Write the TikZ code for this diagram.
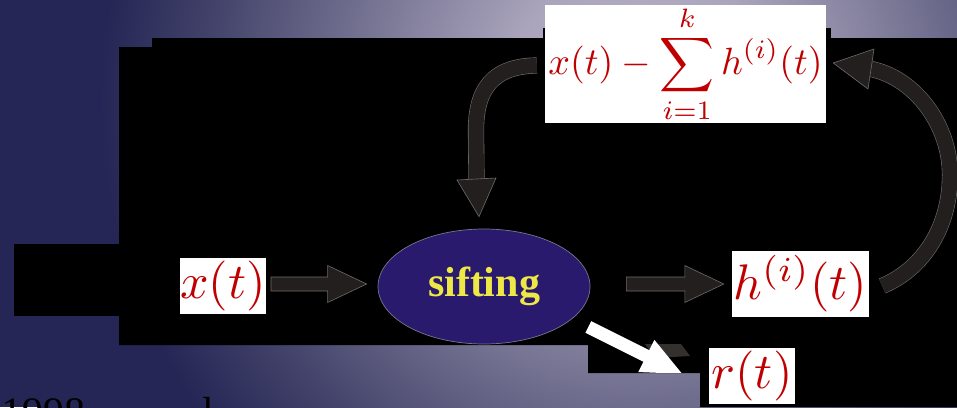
\documentclass[tikz,border=0pt]{standalone}
\usepackage{fix-cm}
\usepackage{exscale}
\usepackage{amsmath}
\usepackage{graphicx}
\usepackage{fontspec}
\newfontfamily\tnr{Liberation Serif}
\usetikzlibrary{calc,shapes.geometric}
\definecolor{navy}{RGB}{37,38,85}
\definecolor{bgA}{RGB}{190,183,203}
\definecolor{bgB}{RGB}{170,164,188}
\definecolor{bgC}{RGB}{112,110,142}
\definecolor{bgD}{RGB}{65,65,105}
\definecolor{mred}{RGB}{192,0,0}
\definecolor{ellfill}{RGB}{42,26,110}
\definecolor{ellline}{RGB}{120,118,140}
\definecolor{siftyellow}{RGB}{238,232,70}
\definecolor{arrowfill}{RGB}{35,31,30}
\definecolor{arrowedge}{RGB}{110,108,106}
\definecolor{sliver}{RGB}{52,48,46}
\pgfdeclareradialshading{bgshade}{\pgfpoint{0bp}{0bp}}{color(0bp)=(bgA); color(5.6bp)=(bgB); color(12.5bp)=(bgC); color(18.3bp)=(bgD); color(22.5bp)=(navy); color(50bp)=(navy)}
\newcommand\blkarrow[6]{%
  \coordinate (#2-h) at ($(#3)!#6!(#2)$);
  \filldraw[#1] ($(#2)!#4!90:(#3)$) -- ($(#2-h)!#4!-90:(#2)$) -- ($(#2-h)!#5!-90:(#2)$) -- (#3) -- ($(#2-h)!#5!90:(#2)$) -- ($(#2-h)!#4!90:(#2)$) -- ($(#2)!#4!-90:(#3)$) -- cycle;}
\tikzset{
  mbox/.style={fill=white, inner sep=0pt, text=mred},
  blockstyle/.style={fill=arrowfill, draw=arrowedge, line width=0.6pt, line join=miter},
  whitestyle/.style={fill=white, draw=none},
  curvestyle/.style={draw=arrowedge, line width=16.2pt, line cap=butt, postaction={draw=arrowfill, line width=15pt, line cap=butt}},
  bottomtext/.style={anchor=base west, inner sep=0pt, text=black, font=\tnr\fontsize{42}{42}\selectfont}
}
\begin{document}
\begin{tikzpicture}[x=1pt,y=-1pt]
\useasboundingbox (0,0) rectangle (957,407);
\begin{scope}
  \clip (0,0) rectangle (957,407);
  \fill[navy] (0,0) rectangle (957,407);
  \shade[shading=bgshade] (40,-500) rectangle (1240,700);
  % partially visible text at bottom
  \node[bottomtext] (yr) at (1,426) {1998};
  \node[bottomtext] (ltr) at (202,426) {l};
\end{scope}
% black panels
\fill[black] (152,38) -- (957,38) -- (957,407) -- (700,407) -- (700,373) -- (588,373) -- (588,345) -- (119,345) -- (119,47) -- (152,47) -- cycle;
\fill[black] (14,244) rectangle (119,316);
\fill[black] (543,28) rectangle (831,38);
% boxes
\node[mbox, minimum width=84pt, minimum height=56pt] (xt) at (223,286) {\scalebox{5}{$x(t)$}};
\node[mbox, minimum width=137pt, minimum height=66pt] (ht) at (800.5,284) {\scalebox{5}{$h^{(i)}(t)$}};
\node[mbox, minimum width=86pt, minimum height=56pt] (rt) at (752,376) {\scalebox{5}{$r(t)$}};
\node[mbox, minimum width=281pt, minimum height=112pt] (sum) at (685.5,64) {\scalebox{3.8}{$\displaystyle x(t)-\sum_{i=1}^{k}h^{(i)}(t)$}};
\node[ellipse, draw=ellline, fill=ellfill, line width=0.7pt, minimum width=212pt, minimum height=115pt, inner sep=0pt, text=siftyellow, font=\tnr\bfseries\fontsize{42}{42}\selectfont] (sifting) at (484,286.5) {sifting};
% straight block arrows
\coordinate (a1s) at ($(xt.east)+(5,-2)$);
\coordinate (a1t) at ($(sifting.west)+(-11,-2.5)$);
\blkarrow{blockstyle}{a1s}{a1t}{7pt}{18.5pt}{39pt}
\coordinate (a2s) at ($(sifting.east)+(36,-2.5)$);
\coordinate (a2t) at ($(ht.west)+(-8,0)$);
\blkarrow{blockstyle}{a2s}{a2t}{7pt}{18.5pt}{39pt}
% left curved arrow
\coordinate (c1s) at ($(sum.west)+(-8,1.5)$);
\coordinate (c1b) at (476.5,180);
\coordinate (c1t) at ($(sifting.north)+(-5,-12)$);
\draw[curvestyle] (c1s) .. controls (492,66) and (476,90) .. (476,130) -- (c1b);
\filldraw[blockstyle] ($(c1b)+(-19.5,0)$) -- (c1t) -- ($(c1b)+(19.5,-2)$) -- cycle;
% right curved arrow
\coordinate (c2s) at ($(ht.east)+(13,2)$);
\coordinate (c2b) at (871,69);
\coordinate (c2t) at ($(sum.east)+(7,-1)$);
\draw[curvestyle] (c2s) .. controls (925,268) and (950,225) .. (950,175) .. controls (950,125) and (915,78) .. (c2b);
\filldraw[blockstyle] ($(c2b)+(3,-20)$) -- (c2t) -- ($(c2b)+(-3,20)$) -- cycle;
% dark sliver behind white arrow
\fill[sliver] (645,344) -- (681,344) -- (690,356) -- (655,358) -- cycle;
% white arrow to r(t)
\coordinate (wS) at ($(sifting.east)+(-2,40.5)$);
\coordinate (wT) at ($(rt.west)+(-26.7,-2.2)$);
\begin{scope}
  \clip (0,0) rectangle (957,372.5);
  \blkarrow{whitestyle}{wS}{wT}{6.5pt}{18pt}{40pt}
\end{scope}
\end{tikzpicture}
\end{document}
